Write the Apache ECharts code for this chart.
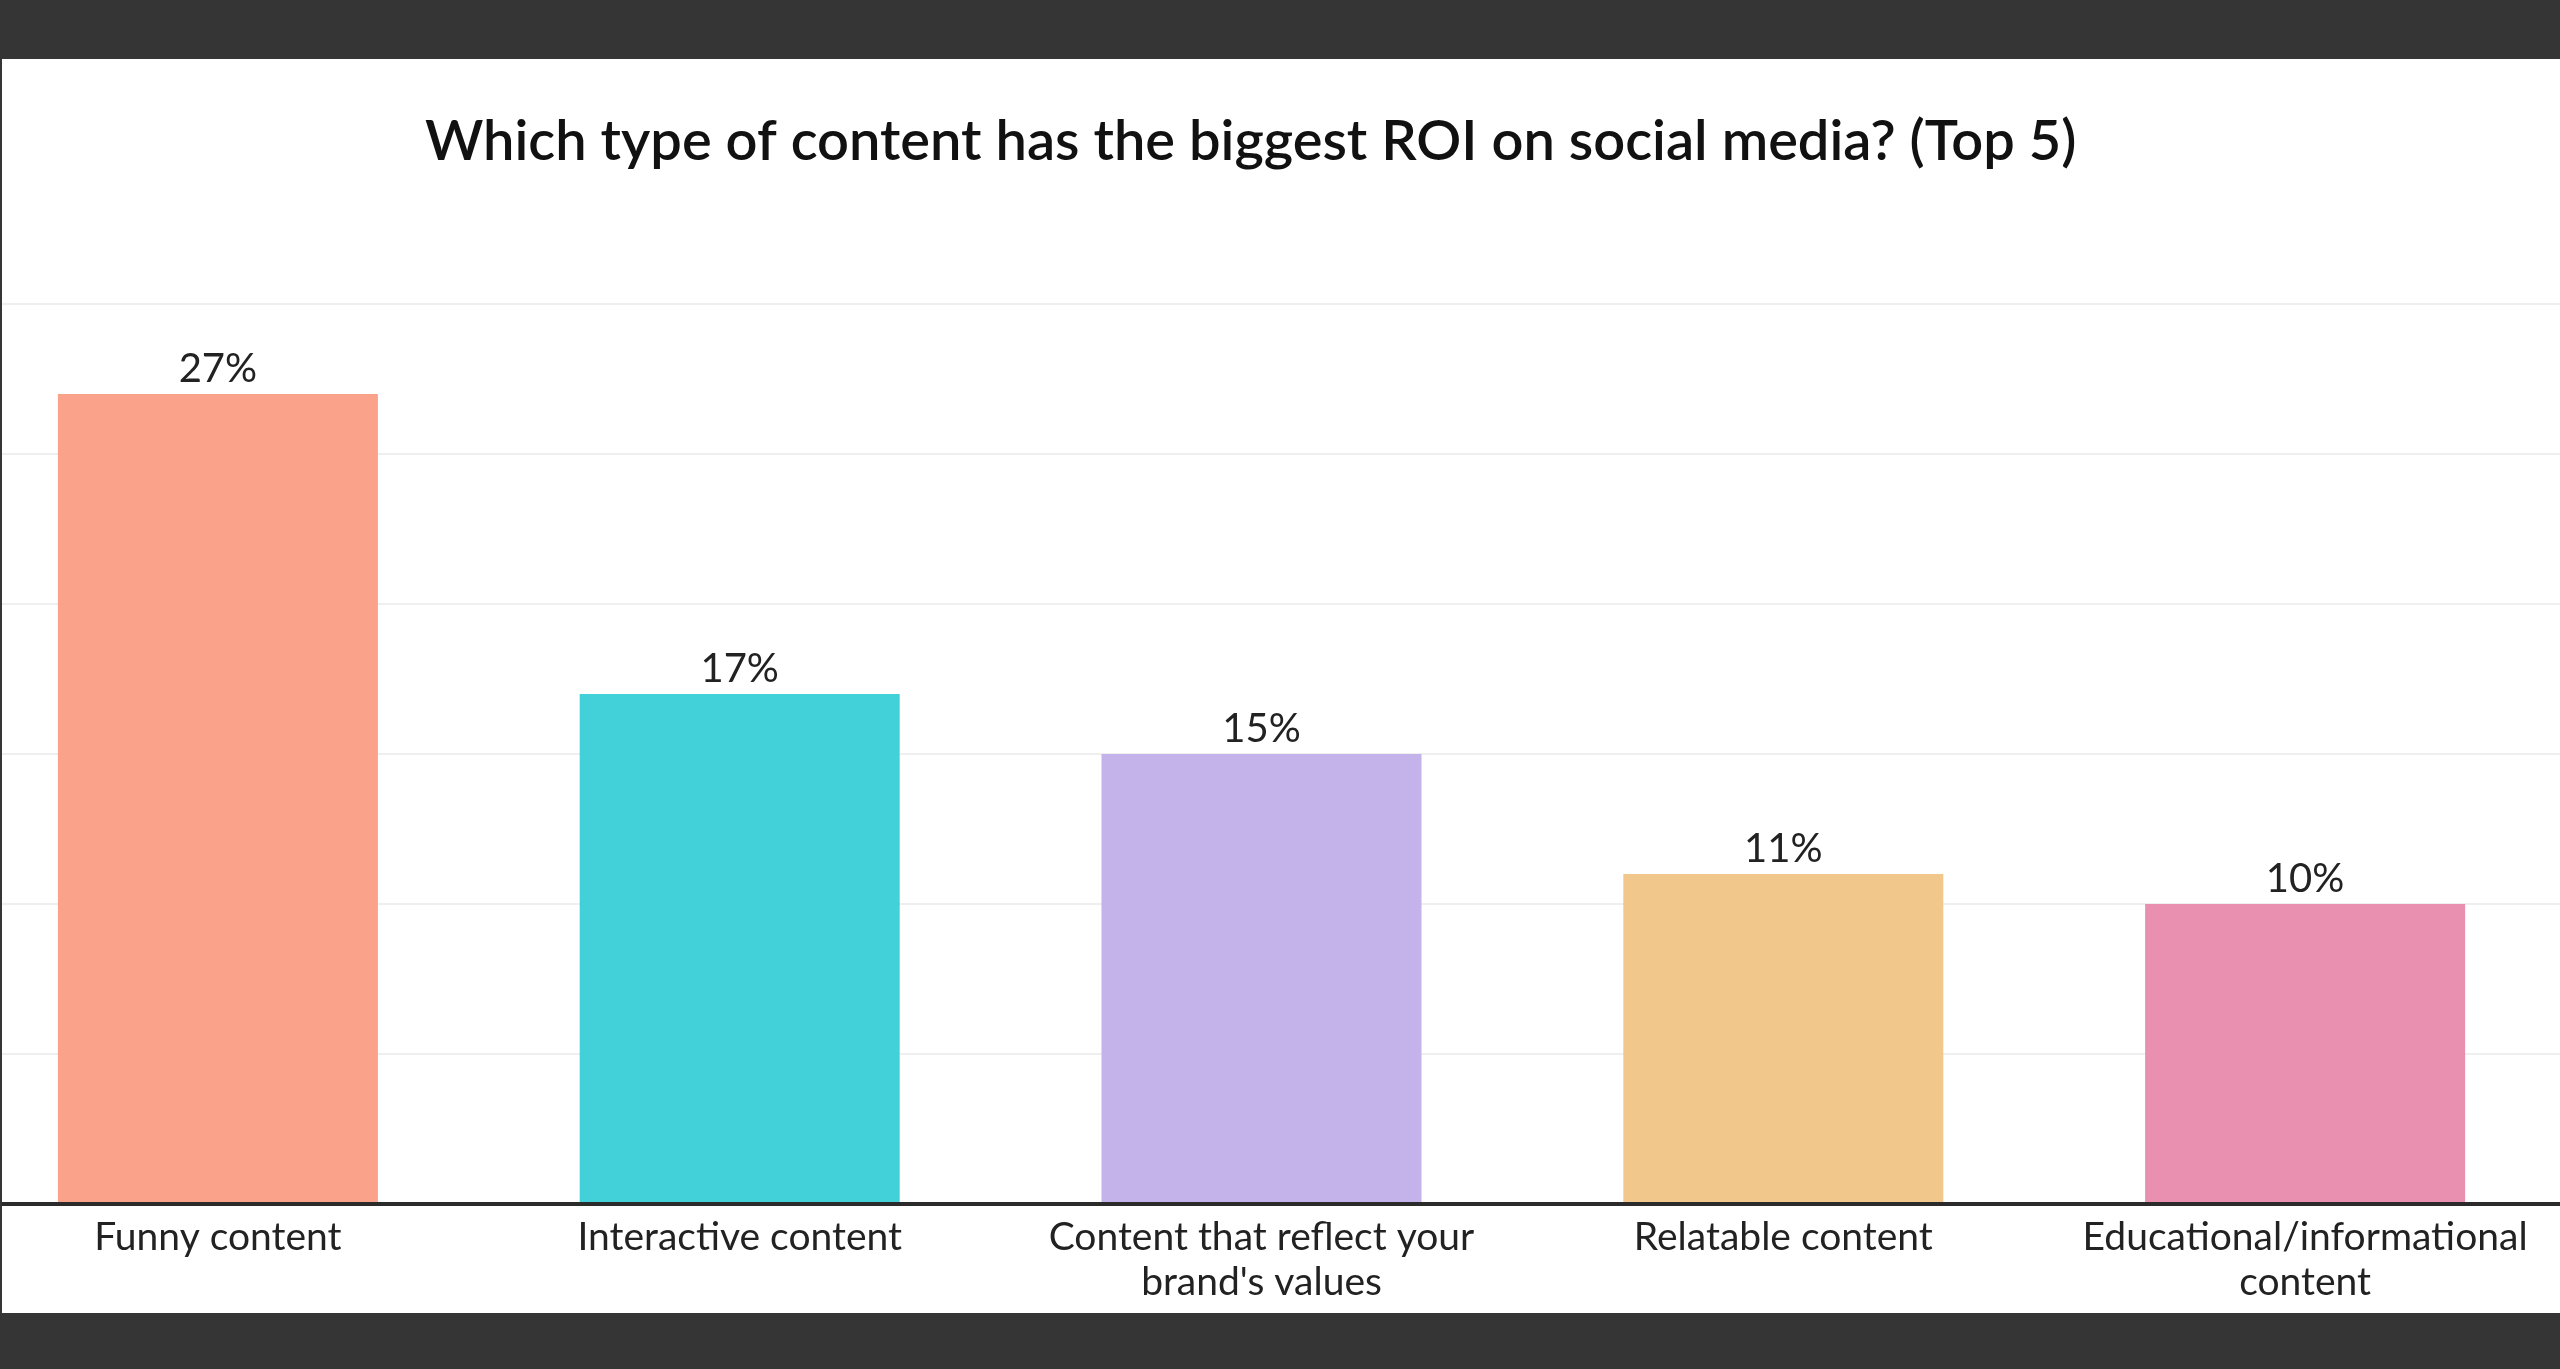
<!DOCTYPE html>
<html>
<head>
<meta charset="utf-8">
<title>Which type of content has the biggest ROI on social media? (Top 5)</title>
<script src="https://cdn.jsdelivr.net/npm/echarts@6/dist/echarts.min.js"></script>
<style>
  html, body { margin: 0; padding: 0; background: #353535; width: 2560px; height: 1369px; overflow: hidden; }
  /* white card; the chart itself is a little wider and cropped at the left edge */
  #frame { position: absolute; left: 2px; top: 59px; width: 2558px; height: 1254px; background: #ffffff; overflow: hidden; }
  #main { position: absolute; left: -45px; top: 0; width: 2609px; height: 1254px; }
</style>
</head>
<body>
<div id="frame"><div id="main"></div></div>
<script>
// data
const categories = [
  'Funny content',
  'Interactive content',
  "Content that reflect your\nbrand's values",
  'Relatable content',
  'Educational/informational\ncontent'
];
const shares = [27, 17, 15, 11, 10];
const barColors = ['#FAA28A', '#42D1D8', '#C4B3EA', '#F2C78C', '#E990B1'];
const yTicks = [0, 5, 10, 15, 20, 25, 30];

var myChart = echarts.init(document.getElementById('main'));

myChart.setOption({
    animation: false,
    title: {
        text: 'Which type of content has the biggest ROI on social media? (Top 5)',
        left: 468,
        top: 52,
        padding: 0,
        textStyle: {
            fontFamily: 'Lato',
            fontWeight: 600,
            fontSize: 56,
            lineHeight: 62,
            color: '#111111'
        }
    },
    grid: {
        left: 0,
        right: 0,
        top: 245,
        height: 900
    },
    xAxis: {
        type: 'category',
        data: categories,
        axisTick: { show: false },
        axisLine: {
            show: true,
            lineStyle: { color: '#2b2b2b', width: 4 }
        },
        z: 5,
        axisLabel: {
            interval: 0,
            margin: 11,
            fontFamily: 'Lato',
            fontSize: 39,
            lineHeight: 45,
            color: '#222222'
        }
    },
    yAxis: {
        type: 'value',
        min: yTicks[0],
        max: yTicks[yTicks.length - 1],
        interval: 5,
        axisLabel: { show: false },
        axisLine: { show: false },
        axisTick: { show: false },
        splitLine: {
            lineStyle: { color: '#efefef', width: 2 }
        }
    },
    series: [{
        type: 'bar',
        barWidth: 320,
        data: shares.map(function (v, i) {
            return { value: v, itemStyle: { color: barColors[i] } };
        }),
        label: {
            show: true,
            position: 'top',
            distance: 5,
            formatter: '{c}%',
            fontFamily: 'Lato',
            fontSize: 40,
            color: '#222222'
        }
    }]
});
</script>
</body>
</html>
